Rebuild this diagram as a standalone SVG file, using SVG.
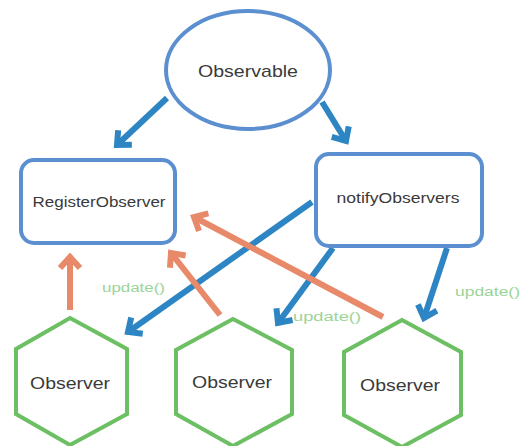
<svg xmlns="http://www.w3.org/2000/svg" width="522" height="446" viewBox="0 0 522 446">
<style>
.shape{fill:#fff;stroke:#5b8fcf;stroke-width:4}
.hex{fill:#fff;stroke:#6cbf63;stroke-width:4;stroke-linejoin:miter}
.lbl{font-family:"Liberation Sans",Arial,sans-serif;fill:#3a3a3a;text-anchor:middle}
.blue{stroke:#2d86c3;stroke-width:6;fill:none}
.orange{stroke:#e8896a;stroke-width:6;fill:none}
.upd{font-family:"Liberation Sans",Arial,sans-serif;font-size:12px;fill:#9bd496}
</style>
<defs>
<marker id="hb" viewBox="-14 -14 28 28" markerWidth="28" markerHeight="28" refX="0" refY="0" orient="auto" markerUnits="userSpaceOnUse">
<path d="M-11,-10 L0,0 L-11,10" fill="none" stroke="#2d86c3" stroke-width="6"/>
</marker>
<marker id="ho" viewBox="-14 -14 28 28" markerWidth="28" markerHeight="28" refX="0" refY="0" orient="auto" markerUnits="userSpaceOnUse">
<path d="M-11,-10 L0,0 L-11,10" fill="none" stroke="#e8896a" stroke-width="6"/>
</marker>
</defs>
<rect width="522" height="446" fill="#fff"/>
<g id="connectors">
<line class="blue" x1="167" y1="98" x2="117" y2="145" marker-end="url(#hb)"/>
<line class="blue" x1="322" y1="102" x2="346" y2="141" marker-end="url(#hb)"/>
<line class="blue" x1="312" y1="202" x2="128" y2="332" marker-end="url(#hb)"/>
<line class="blue" x1="333" y1="248" x2="278" y2="323" marker-end="url(#hb)"/>
<line class="blue" x1="447" y1="248" x2="424" y2="318" marker-end="url(#hb)"/>
<line class="orange" x1="70" y1="310" x2="70" y2="257" marker-end="url(#ho)"/>
<line class="orange" x1="220" y1="315" x2="171" y2="253" marker-end="url(#ho)"/>
<line class="orange" x1="383" y1="317" x2="194" y2="217" marker-end="url(#ho)"/>
<text class="upd" x="102" y="292" textLength="63" lengthAdjust="spacingAndGlyphs">update()</text>
<text class="upd" x="293" y="321" textLength="68" lengthAdjust="spacingAndGlyphs">update()</text>
<text class="upd" x="455" y="296" textLength="65" lengthAdjust="spacingAndGlyphs">update()</text>
</g>
<g id="observable">
<ellipse class="shape" cx="248" cy="70" rx="82" ry="59"/>
<text class="lbl" x="248" y="77" font-size="17" textLength="100" lengthAdjust="spacingAndGlyphs">Observable</text>
</g>
<g id="registerObserver">
<rect class="shape" x="21" y="160" width="154" height="83" rx="13"/>
<text class="lbl" x="99" y="207" font-size="15" textLength="133" lengthAdjust="spacingAndGlyphs">RegisterObserver</text>
</g>
<g id="notifyObservers">
<rect class="shape" x="316" y="154" width="166" height="92" rx="13"/>
<text class="lbl" x="398" y="203" font-size="15" textLength="123" lengthAdjust="spacingAndGlyphs">notifyObservers</text>
</g>
<g id="observer1">
<polygon class="hex" points="70,318 127,349 127,414 70,445 16,414 16,349"/>
<text class="lbl" x="70" y="389" font-size="17" textLength="80" lengthAdjust="spacingAndGlyphs">Observer</text>
</g>
<g id="observer2">
<polygon class="hex" points="233,319 292,350 292,414 233,446 176,414 176,350"/>
<text class="lbl" x="232" y="388" font-size="17" textLength="80" lengthAdjust="spacingAndGlyphs">Observer</text>
</g>
<g id="observer3">
<polygon class="hex" points="402,320 461,352 461,415 402,447 344,415 344,352"/>
<text class="lbl" x="400" y="391" font-size="17" textLength="80" lengthAdjust="spacingAndGlyphs">Observer</text>
</g>
</svg>
